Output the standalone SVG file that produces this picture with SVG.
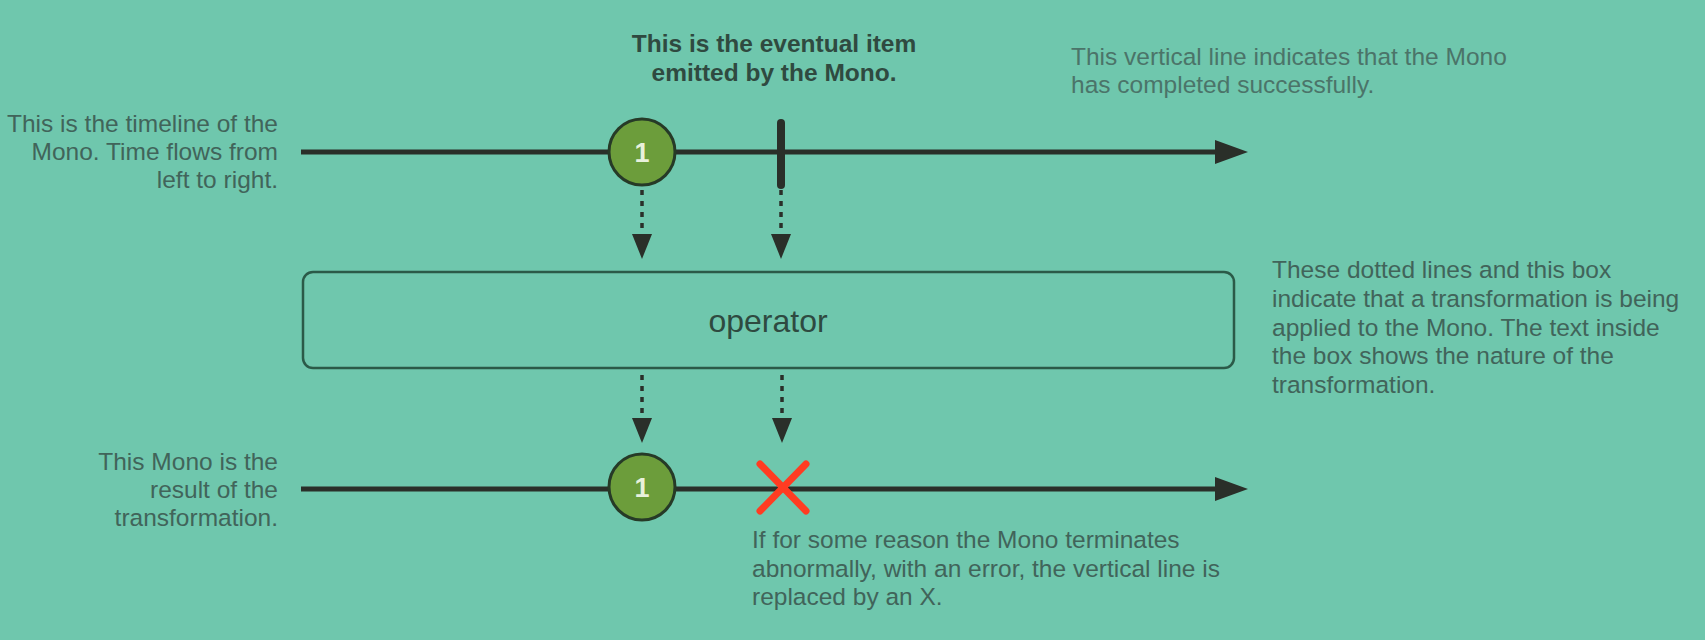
<svg xmlns="http://www.w3.org/2000/svg" width="1705" height="640" viewBox="0 0 1705 640">
<defs>
<style>
.note{font-family:"Liberation Sans",Arial,sans-serif;font-size:24.5px;fill:#41645a}
.note2{font-family:"Liberation Sans",Arial,sans-serif;font-size:24.5px;fill:#4b7469}
.bold{font-family:"Liberation Sans",Arial,sans-serif;font-size:24.5px;font-weight:bold;fill:#2f4a40}
.tl{stroke:#2a2f29;stroke-width:5;fill:none}
.dot{stroke:#2a2f29;stroke-width:3.5;stroke-dasharray:5 6;fill:none}
.head{fill:#2a2f29}
.item{fill:#6c9d3b;stroke:#263a27;stroke-width:3}
.itemtxt{font-family:"Liberation Sans",Arial,sans-serif;font-size:27px;font-weight:bold;fill:#e8f1dc}
</style>
</defs>
<rect width="1705" height="640" fill="#6fc7ad"/>

<g id="connectors">
<line class="tl" x1="301" y1="152" x2="1220" y2="152"/>
<path class="head" d="M1215,140 L1248,152 L1215,164 Z"/>
<line class="tl" x1="301" y1="489" x2="1220" y2="489"/>
<path class="head" d="M1215,477 L1248,489 L1215,501 Z"/>
<line class="dot" x1="642" y1="190" x2="642" y2="234"/>
<path class="head" d="M632,234 L652,234 L642,259 Z"/>
<line class="dot" x1="781" y1="190" x2="781" y2="234"/>
<path class="head" d="M771,234 L791,234 L781,259 Z"/>
<line class="dot" x1="642" y1="375" x2="642" y2="418"/>
<path class="head" d="M632,418 L652,418 L642,443 Z"/>
<line class="dot" x1="782" y1="375" x2="782" y2="418"/>
<path class="head" d="M772,418 L792,418 L782,443 Z"/>
</g>

<g id="item-top">
<circle class="item" cx="642" cy="152" r="33"/>
<text class="itemtxt" x="642" y="162" text-anchor="middle">1</text>
</g>

<g id="complete-bar">
<line x1="781" y1="123" x2="781" y2="185" stroke="#2a2f29" stroke-width="8" stroke-linecap="round"/>
</g>

<g id="operator-box">
<rect x="303" y="272" width="931" height="96" rx="10" fill="none" stroke="#2b5a48" stroke-width="2.5"/>
<text x="768" y="332" text-anchor="middle" font-family="'Liberation Sans',Arial,sans-serif" font-size="32" fill="#2e4a40">operator</text>
</g>

<g id="item-bottom">
<circle class="item" cx="642" cy="487" r="33"/>
<text class="itemtxt" x="642" y="497" text-anchor="middle">1</text>
</g>

<g id="error-x">
<path d="M760,464 L806,511 M806,464 L760,511" stroke="#ff3c22" stroke-width="7" stroke-linecap="round"/>
</g>

<g id="label-item">
<text class="bold" x="774" y="52" text-anchor="middle">This is the eventual item</text>
<text class="bold" x="774" y="81" text-anchor="middle">emitted by the Mono.</text>
</g>

<g id="label-complete">
<text class="note2" x="1071" y="65">This vertical line indicates that the Mono</text>
<text class="note2" x="1071" y="93">has completed successfully.</text>
</g>

<g id="label-timeline">
<text class="note" x="278" y="132" text-anchor="end">This is the timeline of the</text>
<text class="note" x="278" y="160" text-anchor="end">Mono. Time flows from</text>
<text class="note" x="278" y="188" text-anchor="end">left to right.</text>
</g>

<g id="label-operator">
<text class="note" x="1272" y="278">These dotted lines and this box</text>
<text class="note" x="1272" y="307">indicate that a transformation is being</text>
<text class="note" x="1272" y="336">applied to the Mono. The text inside</text>
<text class="note" x="1272" y="364">the box shows the nature of the</text>
<text class="note" x="1272" y="393">transformation.</text>
</g>

<g id="label-result">
<text class="note" x="278" y="470" text-anchor="end">This Mono is the</text>
<text class="note" x="278" y="498" text-anchor="end">result of the</text>
<text class="note" x="278" y="526" text-anchor="end">transformation.</text>
</g>

<g id="label-error">
<text class="note" x="752" y="548">If for some reason the Mono terminates</text>
<text class="note" x="752" y="577">abnormally, with an error, the vertical line is</text>
<text class="note" x="752" y="605">replaced by an X.</text>
</g>
</svg>
